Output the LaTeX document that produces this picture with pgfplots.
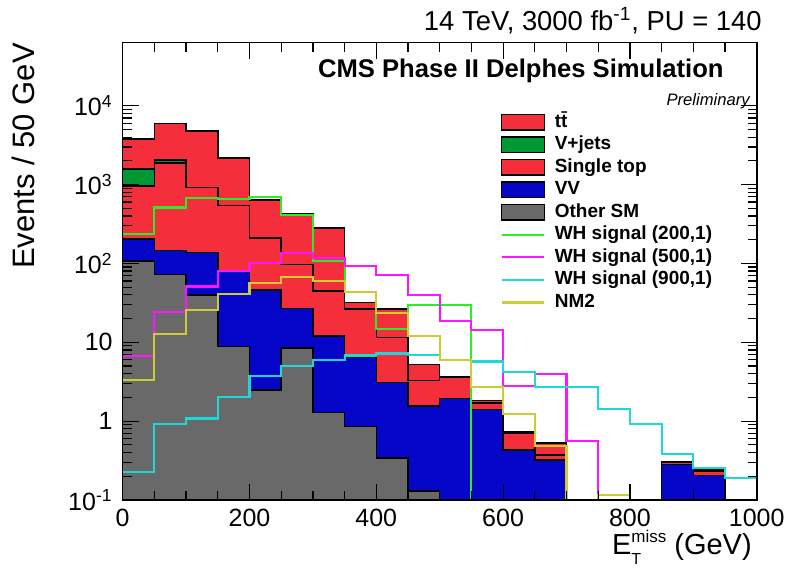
\documentclass[border=0pt]{standalone}
\usepackage{fontspec}
\setmainfont{Liberation Sans}
\usepackage{pgfplots}
\pgfplotsset{compat=1.18}
\definecolor{cred}{RGB}{244,46,58}
\definecolor{cgreen}{RGB}{0,152,52}
\definecolor{cblue}{RGB}{6,6,200}
\definecolor{cgrey}{RGB}{105,105,105}
\definecolor{sgreen}{RGB}{40,240,40}
\definecolor{smag}{RGB}{255,20,255}
\definecolor{scyan}{RGB}{30,215,215}
\definecolor{syel}{RGB}{205,205,50}
\pgfplotsset{
  stk/.style={const plot, draw=black, line width=0.75bp, fill=#1,
    legend image code/.code={\filldraw[##1] (0bp,-3.875bp) rectangle (21.3bp,3.875bp);}},
  sig/.style={const plot, draw=#1, line width=1.05bp,
    legend image code/.code={\draw[##1] (0bp,0bp) -- (21.3bp,0bp);}},
}
\begin{document}
\begin{tikzpicture}
\path[use as bounding box] (-61.35bp,-34.5bp) rectangle (332.65bp,250bp);
\begin{axis}[name=ax, at={(0,0)}, anchor=south west,
  scale only axis, width=317bp, height=228.65bp,
  xmin=0, xmax=1000, ymode=log, ymin=0.1, ymax=6.3e4,
  xtick={0,200,400,600,800,1000}, minor x tick num=3,
  xticklabels={0,200,400,600,800,1000},
  ytick={0.1,1,10,100,1000,10000},
  yticklabels={10\textsuperscript{-1},1,10,10\textsuperscript{2},10\textsuperscript{3},10\textsuperscript{4}},
  ticklabel style={font=\fontsize{12.5bp}{15bp}\selectfont, inner sep=0pt},
  xticklabel shift=4.3bp, yticklabel shift=4.85bp,
  major tick length=8bp, minor tick length=4.5bp,
  axis on top, axis line style={line width=0.8bp},
  every tick/.style={black, line width=0.6bp},
  legend cell align=left,
  legend style={draw=none, fill=none, inner sep=0pt, outer sep=0pt,
    at={(0.5962,0.8456)}, anchor=north west,
    font=\bfseries\fontsize{9.5bp}{11bp}\selectfont,
    row sep=2.26bp, /tikz/column sep=4.7bp,
    nodes={inner sep=0pt, text height=7bp, text depth=2bp}},
]
% stacked cumulative histograms (top of each component)
\addplot[stk=cred] coordinates {(0,0.001) (0,3790) (50,5990) (100,4790) (150,2160) (200,640) (250,432) (300,281) (350,32) (400,26.5) (450,5.2) (500,3.7) (550,1.83) (600,0.73) (650,0.53) (700,0.001) (750,0.001) (800,0.001) (850,0.31) (900,0.24) (950,0.001) (1000,0.001)};
\addlegendentry{t\=t}
\addplot[stk=cgreen] coordinates {(0,0.001) (0,1567) (50,2055) (100,916) (150,545) (200,211) (250,97) (300,45) (350,26.5) (400,11.5) (450,3.3) (500,3.6) (550,1.71) (600,0.70) (650,0.37) (700,0.001) (750,0.001) (800,0.001) (850,0.30) (900,0.23) (950,0.001) (1000,0.001)};
\addlegendentry{V+jets}
\addplot[stk=cred] coordinates {(0,0.001) (0,963) (50,1866) (100,916) (150,545) (200,211) (250,97) (300,45) (350,26.5) (400,11.5) (450,3.3) (500,3.6) (550,1.71) (600,0.70) (650,0.37) (700,0.001) (750,0.001) (800,0.001) (850,0.30) (900,0.23) (950,0.001) (1000,0.001)};
\addlegendentry{Single top}
\addplot[stk=cblue] coordinates {(0,0.001) (0,204) (50,145) (100,138) (150,80) (200,46) (250,27) (300,12) (350,6.4) (400,3.1) (450,1.55) (500,1.95) (550,1.41) (600,0.43) (650,0.32) (700,0.001) (750,0.001) (800,0.001) (850,0.28) (900,0.205) (950,0.001) (1000,0.001)};
\addlegendentry{VV}
\addplot[stk=cgrey] coordinates {(0,0.001) (0,108) (50,72) (100,40) (150,8.9) (200,2.5) (250,8.5) (300,1.28) (350,0.86) (400,0.34) (450,0.13) (500,0.001) (550,0.001) (600,0.001) (650,0.001) (700,0.001) (750,0.001) (800,0.001) (850,0.001) (900,0.001) (950,0.001) (1000,0.001)};
\addlegendentry{Other SM}
% signals
\addplot[sig=sgreen] coordinates {(0,235) (50,512) (100,684) (150,650) (200,700) (250,415) (300,106) (350,43) (400,14.8) (450,29.5) (500,30) (550,0.001) (600,0.001) (650,0.001) (700,0.001) (750,0.001) (800,0.001) (850,0.001) (900,0.001) (950,0.001) (1000,0.001)};
\addlegendentry{WH signal (200,1)}
\addplot[sig=smag] coordinates {(0,6.65) (50,24.3) (100,51) (150,80) (200,101) (250,135) (300,118) (350,92) (400,72) (450,40) (500,18.4) (550,14.5) (600,2.8) (650,4.0) (700,0.56) (750,0.001) (800,0.001) (850,0.001) (900,0.001) (950,0.001) (1000,0.001)};
\addlegendentry{WH signal (500,1)}
\addplot[sig=scyan] coordinates {(0,0.226) (50,0.93) (100,1.08) (150,2.04) (200,3.71) (250,4.97) (300,6.0) (350,6.8) (400,7.2) (450,6.9) (500,6.0) (550,5.7) (600,4.2) (650,2.7) (700,2.7) (750,1.41) (800,0.93) (850,0.38) (900,0.257) (950,0.19) (1000,0.19)};
\addlegendentry{WH signal (900,1)}
\addplot[sig=syel] coordinates {(0,3.3) (50,12.9) (100,25.4) (150,41) (200,57) (250,67) (300,60) (350,44) (400,23.3) (450,11.9) (500,6.0) (550,2.7) (600,1.24) (650,0.49) (700,0.001) (750,0.116) (800,0.001) (850,0.001) (900,0.001) (950,0.001) (1000,0.001)};
\addlegendentry{NM2}
\end{axis}
\node[rotate=90, anchor=base east, inner sep=0pt, font=\fontsize{15.5bp}{18bp}\selectfont] at ([xshift=-43.85bp]ax.north west) {Events / 50 GeV};
\node[anchor=base east, inner sep=0pt, font=\fontsize{14.5bp}{17bp}\selectfont] at ([xshift=-2.3bp,yshift=-27bp]ax.south east) {E\rlap{\raisebox{-5.4bp}{\fontsize{8bp}{9bp}\selectfont T}}\raisebox{5.7bp}{\fontsize{8.5bp}{9bp}\selectfont miss} (GeV)};
\node[anchor=base east, inner sep=0pt, font=\fontsize{13.7bp}{16bp}\selectfont] at ([xshift=2.7bp,yshift=5.85bp]ax.north east) {14 TeV, 3000 fb\textsuperscript{-1}, PU = 140};
\node[anchor=base east, inner sep=0pt, font=\bfseries\fontsize{12.8bp}{15bp}\selectfont] at ([xshift=-16.35bp,yshift=-17.65bp]ax.north east) {CMS Phase II Delphes Simulation};
\node[anchor=base east, inner sep=0pt, font=\itshape\fontsize{8.3bp}{10bp}\selectfont] at ([xshift=-3.35bp,yshift=-31.65bp]ax.north east) {Preliminary};
\end{tikzpicture}
\end{document}
